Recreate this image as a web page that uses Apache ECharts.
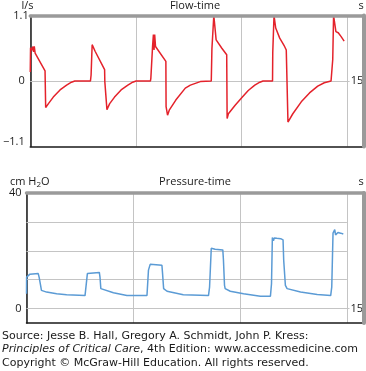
<!DOCTYPE html>
<html>
<head>
<meta charset="utf-8">
<script src="https://cdn.jsdelivr.net/npm/echarts@6/dist/echarts.min.js"></script>
<style>
html,body{margin:0;padding:0;background:#fff;}
#chart{width:366px;height:371px;}
</style>
</head>
<body>
<div id="chart"></div>
<script>
// ---------- DATA ----------
const timeTicks = [0, 5, 10, 15];
const timeEndLabel = '15';
const flowTicks = [-1.1, 0, 1.1];
const flowTickLabels = ['\u22121.1', '0', '1.1'];
const pressureTicks = [0, 10, 20, 30, 40];
const pressureTickLabels = ['0', '', '', '', '40'];

const flowTime = [0, 0.014, 0.085, 0.13, 0.155, 0.19, 0.23, 0.70, 0.73, 0.86, 1.09, 1.41, 1.72, 1.95, 2.11,
  2.85, 2.88, 2.93, 3.01, 3.07, 3.52, 3.53, 3.60, 3.63, 3.76, 3.99, 4.30, 4.62, 4.85, 5.01,
  5.69, 5.71, 5.79, 5.83, 5.86, 5.89, 5.93, 6.42, 6.43, 6.48, 6.50, 6.58, 6.89, 7.34, 7.58, 8.05,
  8.57, 8.60, 8.67, 8.69, 8.72, 8.80, 9.07, 9.30, 9.32, 9.38, 9.69, 10.01, 10.32, 10.63, 10.87, 11.02,
  11.47, 11.48, 11.52, 11.54, 11.58, 11.62, 11.81, 12.04, 12.12, 12.20, 12.43, 12.83, 13.22, 13.61, 13.92, 14.24,
  14.29, 14.32, 14.34, 14.36, 14.40, 14.47, 14.58, 14.71, 14.86];
const flowValue = [0.15, 0.56, 0.52, 0.58, 0.49, 0.58, 0.47, 0.17, -0.445, -0.38, -0.27, -0.15, -0.07, -0.02, 0,
  0, 0.10, 0.61, 0.63, 0.50, 0.19, -0.01, -0.01, -0.48, -0.38, -0.27, -0.15, -0.07, -0.02, 0,
  0, 0.05, 0.58, 0.78, 0.52, 0.78, 0.58, 0.33, -0.43, -0.43, -0.575, -0.49, -0.32, -0.12, -0.07, -0.01,
  0, 0.54, 0.54, 1.1, 1.1, 0.69, 0.55, 0.44, -0.63, -0.55, -0.41, -0.28, -0.16, -0.07, -0.02, 0,
  0, 0.47, 0.47, 1.1, 1.1, 0.89, 0.72, 0.58, 0.52, -0.69, -0.55, -0.35, -0.20, -0.085, -0.03, 0,
  0, 0.36, 0.36, 1.1, 1.1, 0.83, 0.81, 0.75, 0.67];

const pressureTime = [0, 0.005, 0.05, 0.16, 0.55, 0.59, 0.66, 0.70, 0.94, 1.41, 1.88, 2.74,
  2.79, 2.85, 2.89, 3.41, 3.44, 3.48, 3.52, 4.07, 4.70, 5.64,
  5.68, 5.71, 5.79, 6.34, 6.37, 6.42, 6.58, 7.34, 7.40, 8.52,
  8.57, 8.65, 8.67, 8.83, 9.19, 9.22, 9.27, 9.30, 9.54, 10.16, 10.95, 11.42,
  11.47, 11.51, 11.56, 11.60, 11.65, 11.72, 11.81, 11.90, 12.01, 12.04, 12.12, 12.20, 12.83, 13.61, 14.24,
  14.29, 14.35, 14.43, 14.47, 14.58, 14.71, 14.83];
const pressureValue = [5.1, 10.9, 11.5, 11.9, 12.1, 10.9, 8.0, 6.3, 5.7, 5.1, 4.8, 4.5,
  4.6, 12.1, 12.6, 12.5, 10.9, 6.9, 6.3, 5.5, 4.5, 4.5,
  5.0, 13.3, 15.3, 15.0, 12.1, 6.9, 6.0, 4.8, 4.5, 4.5,
  7.4, 20.9, 21.2, 20.5, 20.3, 16.8, 8.0, 6.9, 6.0, 5.1, 4.3, 4.3,
  8.6, 24.6, 23.5, 24.4, 23.8, 24.3, 23.9, 24.2, 23.8, 16.8, 8.0, 6.9, 5.7, 4.9, 4.5,
  7.4, 26.1, 27.3, 25.5, 26.3, 26.1, 25.8];

const sourceLines = [
  'Source: Jesse B. Hall, Gregory A. Schmidt, John P. Kress:',
  ['Principles of Critical Care', ', 4th Edition: www.accessmedicine.com'],
  'Copyright \u00a9 McGraw-Hill Education. All rights reserved.'
];

// ---------- STYLE ----------
const FONT = '"Open Sans", "Noto Sans", sans-serif';
const SRC_FONT = '"DejaVu Sans", Verdana, sans-serif';
const TXT = '#1a1a1a';
const GRID_C = '#c4c4c4';
const FRAME_C = '#9a9a9a';
const tMax = 15.8;
const tickExt = 0.12;

const zip = (a, b) => a.map((v, i) => [v, b[i]]);
const near = (a, b) => Math.abs(a - b) < 1e-6;

function hLines(values, extendIdx) {
  return values.map((v, i) => {
    const isEnd = i === extendIdx;
    return [
      { coord: [timeTicks[0], v], label: isEnd ? { show: true, position: 'end', formatter: timeEndLabel,
          distance: 1, color: TXT, fontSize: 11, fontFamily: FONT } : { show: false } },
      { coord: [timeTicks[timeTicks.length - 1] + (isEnd ? tickExt : 0), v] }
    ];
  });
}

const xBase = (gi) => ({
  gridIndex: gi, type: 'value', min: timeTicks[0], max: tMax, interval: timeTicks[1] - timeTicks[0],
  axisLine: { onZero: false, lineStyle: { color: TXT, width: 1.5 } },
  axisTick: { show: false }, axisLabel: { show: false },
  splitLine: { show: true, lineStyle: { color: GRID_C, width: 1 } }
});
const xTop = (gi) => ({
  gridIndex: gi, type: 'value', position: 'top', min: timeTicks[0], max: tMax, z: 5,
  axisLine: { onZero: false, lineStyle: { color: FRAME_C, width: 3.5 } },
  axisTick: { show: false }, axisLabel: { show: false }, splitLine: { show: false }
});
const yRight = (gi, mn, mx) => ({
  gridIndex: gi, type: 'value', position: 'right', min: mn, max: mx, z: 5,
  axisLine: { show: true, onZero: false, lineStyle: { color: FRAME_C, width: 4 } },
  axisTick: { show: false }, axisLabel: { show: false }, splitLine: { show: false }
});

const option = {
  animation: false,
  grid: [
    { left: 26.5, right: 2, top: 15.5, height: 131 },
    { left: 26.5, right: 2, top: 193, height: 130 }
  ],
  xAxis: [xBase(0), xTop(0), xBase(1), xTop(1)],
  yAxis: [
    { gridIndex: 0, type: 'value', min: flowTicks[0], max: flowTicks[flowTicks.length - 1],
      interval: flowTicks[1] - flowTicks[0],
      axisLine: { show: true, onZero: false, lineStyle: { color: TXT, width: 1.5 } },
      axisTick: { show: false }, splitLine: { show: false },
      axisLabel: { margin: 1.5, color: TXT, fontSize: 11, fontFamily: FONT,
        formatter: (v) => {
          const i = flowTicks.findIndex(t => near(t, v));
          if (i < 0) return '';
          const key = i === flowTicks.length - 1 ? 't' : (i === 0 ? 'b' : 'm');
          return '{' + key + '|' + flowTickLabels[i] + '}';
        },
        rich: {
          t: { fontSize: 11, fontFamily: FONT, color: TXT },
          m: { fontSize: 11, fontFamily: FONT, color: TXT, padding: [0, 4, 0, 0] },
          b: { fontSize: 11, fontFamily: FONT, color: TXT, padding: [0, 4, 10, 0] }
        } } },
    yRight(0, flowTicks[0], flowTicks[flowTicks.length - 1]),
    { gridIndex: 1, type: 'value', min: -5, max: pressureTicks[pressureTicks.length - 1], interval: 5,
      axisLine: { show: true, onZero: false, lineStyle: { color: TXT, width: 1.5 } },
      axisTick: { show: false }, splitLine: { show: false },
      axisLabel: { margin: 5, color: TXT, fontSize: 11, fontFamily: FONT,
        formatter: (v) => {
          const i = pressureTicks.findIndex(t => near(t, v));
          return i < 0 ? '' : pressureTickLabels[i];
        } } },
    yRight(1, -5, pressureTicks[pressureTicks.length - 1])
  ],
  graphic: [
    { type: 'text', x: 21.5, y: 6, style: { text: 'l/s', fill: TXT, font: '11px ' + FONT, verticalAlign: 'middle', align: 'left' } },
    { type: 'text', x: 195, y: 6, style: { text: 'Flow-time', fill: TXT, font: '11px ' + FONT, verticalAlign: 'middle', align: 'center' } },
    { type: 'text', x: 358.5, y: 6, style: { text: 's', fill: TXT, font: '11px ' + FONT, verticalAlign: 'middle', align: 'left' } },
    { type: 'text', x: 10, y: 182, style: { text: 'cm H{sub|2}O', fill: TXT, font: '11px ' + FONT, verticalAlign: 'middle', align: 'left',
        rich: { sub: { fontSize: 8, fontFamily: FONT, fill: TXT, padding: [6, 0, 0, 0] } } } },
    { type: 'text', x: 195, y: 182, style: { text: 'Pressure-time', fill: TXT, font: '11px ' + FONT, verticalAlign: 'middle', align: 'center' } },
    { type: 'text', x: 358.5, y: 182, style: { text: 's', fill: TXT, font: '11px ' + FONT, verticalAlign: 'middle', align: 'left' } },
    { type: 'text', x: 2, y: 329, style: {
        text: sourceLines[0] + '\n{i|' + sourceLines[1][0] + '}' + sourceLines[1][1] + '\n' + sourceLines[2],
        fill: TXT, font: '11px ' + SRC_FONT, lineHeight: 13.5, verticalAlign: 'top', align: 'left',
        rich: { i: { fontStyle: 'italic', fontSize: 11, fontFamily: SRC_FONT, fill: TXT, lineHeight: 13.5 } } } }
  ],
  series: [
    { type: 'line', xAxisIndex: 0, yAxisIndex: 0, z: 3, showSymbol: false, symbol: 'none',
      data: zip(flowTime, flowValue),
      lineStyle: { color: '#e4222b', width: 1.5 },
      markLine: { silent: true, z: 1, symbol: 'none', animation: false,
        lineStyle: { color: GRID_C, width: 1, type: 'solid' },
        data: hLines([flowTicks[1]], 0) } },
    { type: 'line', xAxisIndex: 2, yAxisIndex: 2, z: 3, showSymbol: false, symbol: 'none',
      data: zip(pressureTime, pressureValue),
      lineStyle: { color: '#5b9bd5', width: 1.5 },
      markLine: { silent: true, z: 1, symbol: 'none', animation: false,
        lineStyle: { color: GRID_C, width: 1, type: 'solid' },
        data: hLines(pressureTicks.slice(0, -1), 0) } }
  ]
};

const chart = echarts.init(document.getElementById('chart'), null, { renderer: 'canvas' });
chart.setOption(option);
</script>
</body>
</html>
